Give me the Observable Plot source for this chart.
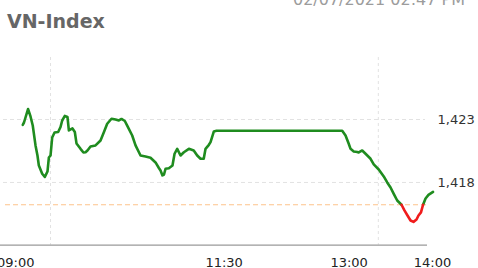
<!DOCTYPE html>
<html>
<head>
<meta charset="utf-8">
<script src="https://cdn.jsdelivr.net/npm/d3@7"></script>
<script src="https://cdn.jsdelivr.net/npm/@observablehq/plot@0.6"></script>
<style>
  html, body { margin: 0; padding: 0; background: #fff; }
  #wrap { position: relative; width: 478px; height: 268px; overflow: hidden; background: #fff; }
  #title { position: absolute; left: 7px; top: 12px; font: bold 19px "DejaVu Sans", sans-serif; line-height: 1; color: #666; white-space: nowrap; }
  #stamp { position: absolute; left: 293px; top: -8px; font: 16px "DejaVu Sans", sans-serif; line-height: 1; color: #9c9c9c; white-space: nowrap; }
  #chart { position: absolute; left: 0; top: 0; }
</style>
</head>
<body>
<div id="wrap">
  <div id="chart"></div>
  <div id="title">VN-Index</div>
  <div id="stamp">02/07/2021 02:47 PM</div>
</div>
<script>
// minutes after 09:00
const times = [5.0, 5.9, 8.8, 10.6, 12.2, 14.2, 15.6, 16.6, 19.0, 20.9, 22.8, 23.8, 25.0, 26.2, 27.9, 30.5, 32.2, 33.4, 35.3, 37.2,
  38.2, 40.8, 42.5, 43.7, 46.6, 48.7, 50.2, 51.6, 53.8, 57.4, 61.0, 63.4, 65.8, 68.9, 71.8, 74.2, 76.1, 78.5, 80.2, 83.8,
  86.2, 89.8, 93.4, 97.0, 100.6, 103.0, 104.2, 105.6, 106.7, 107.8, 110.2, 112.8, 114.3, 116.2, 118.6, 121.0, 124.6, 128.1, 130.6, 133.0,
  135.3, 136.6, 139.0, 140.2, 142.6, 144.5, 235.0, 237.4, 239.7, 241.0, 243.3, 245.8, 246.9, 249.4, 251.8, 255.4, 257.7, 261.3, 264.9, 267.4,
  269.8, 272.1, 274.6, 277.7, 279.8, 282.0, 284.2, 286.3, 288.5, 289.9, 291.7, 293.2, 295.0, 297.1, 300.4];
const values = [1422.58, 1422.76, 1423.83, 1423.24, 1422.52, 1420.94, 1420.14, 1419.35, 1418.69, 1418.44, 1418.87, 1419.98, 1420.14, 1421.57, 1421.97, 1422.01, 1422.40, 1422.92, 1423.28, 1423.20,
  1422.13, 1422.29, 1422.01, 1421.10, 1420.67, 1420.38, 1420.40, 1420.54, 1420.86, 1420.94, 1421.33, 1421.99, 1422.66, 1423.06, 1423.00, 1422.92, 1423.04, 1422.88, 1422.52, 1421.73,
  1420.94, 1420.14, 1420.06, 1419.96, 1419.59, 1419.15, 1418.95, 1418.56, 1418.63, 1419.09, 1419.13, 1419.35, 1420.28, 1420.67, 1420.14, 1420.40, 1420.67, 1420.54, 1420.14, 1419.88,
  1419.88, 1420.67, 1420.99, 1421.20, 1422.05, 1422.10, 1422.10, 1421.73, 1421.07, 1420.67, 1420.46, 1420.42, 1420.38, 1420.54, 1420.28, 1419.88, 1419.43, 1419.03, 1418.48, 1418.00,
  1417.60, 1417.10, 1416.57, 1416.23, 1415.78, 1415.38, 1414.98, 1414.87, 1415.06, 1415.38, 1415.62, 1416.23, 1416.73, 1417.01, 1417.25];
const refValue = 1416.23;          // reference (previous close)
const yTicks = [1418, 1423];
const xTickTimes = [0, 150, 240, 300];
const xTickLabels = ["09:00", "11:30", "13:00", "14:00"];
const xGridTimes = [25, 261];

const GREEN = "#1f8c1f", RED = "#f01c1c";

// split the series into runs above / below the reference value
const rows = [];
let seg = -1, prevRed = null;
for (let i = 0; i < times.length - 1; i++) {
  const red = values[i] <= refValue + 1e-6 && values[i + 1] <= refValue + 1e-6;
  if (red !== prevRed) {
    seg++;
    rows.push({t: times[i], v: values[i], seg, red});
    prevRed = red;
  }
  rows.push({t: times[i + 1], v: values[i + 1], seg, red});
}

const chart = Plot.plot({
  width: 478,
  height: 268,
  marginLeft: 0,
  marginRight: 51,
  marginTop: 57,
  marginBottom: 23.3,
  style: {fontFamily: "DejaVu Sans, sans-serif", fontSize: "13px", color: "#222", background: "transparent", overflow: "visible"},
  x: {domain: [0, 300], range: [15.3, 432]},
  y: {domain: [1413.02, 1427.92]},
  marks: [
    Plot.ruleX(xGridTimes, {stroke: "#e2e2e2", strokeDasharray: "3,3"}),
    Plot.ruleY(yTicks, {stroke: "#e2e2e2", strokeDasharray: "4,3", insetLeft: 3, insetRight: 2}),
    Plot.ruleY([refValue], {stroke: "#fdc48c", strokeWidth: 1.2, strokeDasharray: "5,3", insetLeft: 5}),
    Plot.ruleY([1413.02], {stroke: "#9a9a9a", strokeWidth: 1.3}),
    Plot.line(rows.filter(d => !d.red), {x: "t", y: "v", z: "seg", stroke: GREEN, strokeWidth: 2.6}),
    Plot.line(rows.filter(d => d.red), {x: "t", y: "v", z: "seg", stroke: RED, strokeWidth: 2.6}),
    Plot.axisY({anchor: "right", ticks: yTicks, tickFormat: d3.format(","), tickSize: 0, tickPadding: 10, label: null, fill: "#333"}),
    Plot.axisX({ticks: xTickTimes, tickFormat: d => xTickLabels[xTickTimes.indexOf(d)], tickSize: 0, tickPadding: 13, label: null, fill: "#222"})
  ]
});
document.getElementById("chart").appendChild(chart);
</script>
</body>
</html>
